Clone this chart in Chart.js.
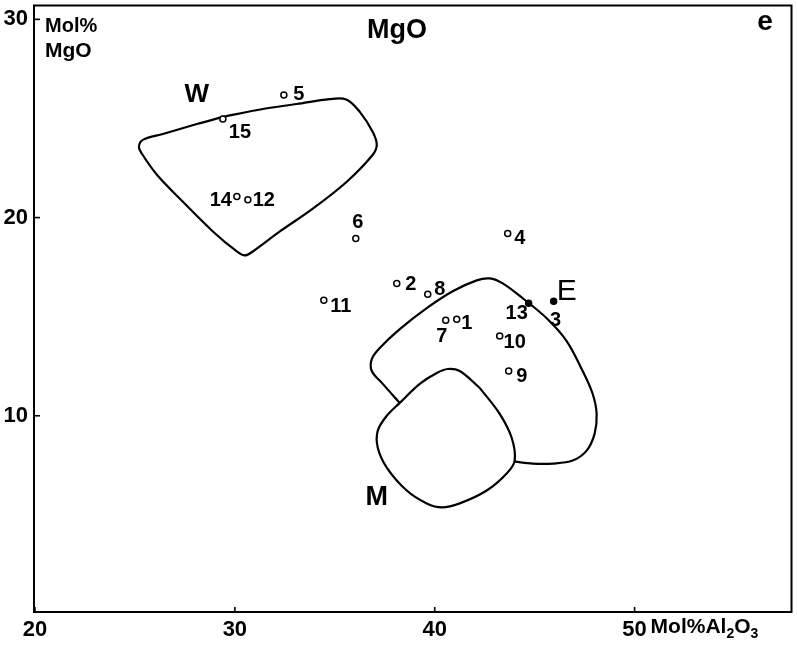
<!DOCTYPE html>
<html>
<head>
<meta charset="utf-8">
<title>MgO - Al2O3</title>
<script src="https://cdn.jsdelivr.net/npm/chart.js@4.4.0/dist/chart.umd.min.js"></script>
<style>
    html, body { margin: 0; padding: 0; background: #fff; }
    #wrap { width: 797px; height: 652px; }
</style>
</head>
<body>
<div id="wrap"><canvas id="mgoChart" width="797" height="652"></canvas></div>
<script>
//--- Data (Mol% Al2O3 / Mol% MgO)
var sampleIds = ['1', '2', '3', '4', '5', '6', '7', '8', '9', '10', '11', '12', '13', '14', '15'];
var sampleAl2O3 = [41.1, 38.1, 45.95, 43.65, 32.45, 36.05, 40.55, 39.65, 43.7, 43.25, 34.45, 30.65, 44.7, 30.1, 29.4];
var sampleMgO = [14.87, 16.68, 15.78, 19.2, 26.18, 18.94, 14.82, 16.13, 12.26, 14.02, 15.83, 20.9, 15.68, 21.06, 24.97];

// field W (closed outline)
var wAl2O3 = [29.4, 31.4, 33.1, 34.75, 35.6, 36.25, 36.9, 37.1, 36.9, 35.6, 33.9, 32.25, 30.9, 30.5, 30.1, 28.9, 27.25, 26.1, 25.35, 25.2, 25.4, 26.4, 28.1, 29.4];
var wMgO = [25.08, 25.48, 25.73, 25.98, 25.95, 25.33, 24.32, 23.67, 23.17, 21.81, 20.45, 19.3, 18.29, 18.09, 18.29, 19.3, 20.95, 22.16, 23.22, 23.57, 23.92, 24.22, 24.72, 25.08];

// field E (open, ends on field M)
var eAl2O3 = [38.25, 37.4, 36.85, 36.85, 37.25, 38.25, 39.6, 40.9, 42.1, 42.75, 43.4, 44.4, 45.6, 46.6, 47.4, 47.9, 48.1, 48.0, 47.6, 46.9, 45.9, 44.9, 44.0];
var eMgO = [10.65, 11.61, 12.26, 12.86, 13.42, 14.37, 15.43, 16.28, 16.83, 16.93, 16.68, 15.93, 14.92, 13.77, 12.26, 11.11, 10.1, 9.1, 8.24, 7.74, 7.59, 7.59, 7.69];

// field M (closed outline)
var mAl2O3 = [42.25, 43.25, 43.85, 44.0, 43.6, 42.6, 41.25, 40.35, 39.6, 38.6, 37.6, 37.15, 37.15, 37.6, 38.25, 39.25, 40.1, 40.65, 41.25, 42.25];
var mMgO = [11.41, 10.1, 8.89, 7.74, 7.09, 6.23, 5.58, 5.38, 5.58, 6.23, 7.39, 8.39, 9.25, 10.0, 10.65, 11.61, 12.16, 12.36, 12.26, 11.41];

var fieldNames = ['W', 'E', 'M'];
var fieldLabelAl2O3 = [28.1, 46.6, 37.1];
var fieldLabelMgO = [26.2, 16.28, 5.88];

var xTicks = [20, 30, 40, 50];
var yTicks = [10, 20, 30];

//--- helpers
var family = "'Liberation Sans', Arial, sans-serif";

function toPoints(xs, ys) {
    return xs.map(function (x, i) { return { x: x, y: ys[i] }; });
}

function outline(name, xs, ys) {
    return {
        label: name,
        data: toPoints(xs, ys),
        showLine: true,
        pointRadius: 0,
        borderColor: '#000',
        borderWidth: 2.2,
        tension: 0.35,
        fill: false
    };
}

// label offsets (px) from each sample point
var labelOffsets = {
    '1': [10, 4], '2': [14, 1], '3': [2, 19], '4': [12, 5], '5': [15, -1],
    '6': [2, -16], '7': [-4, 16], '8': [12, -5], '9': [13, 5], '10': [15, 6],
    '11': [17, 6], '12': [16, 1], '13': [-12, 10], '14': [-16, 4], '15': [17, 13]
};
var filledIds = ['3', '13'];

var decorPlugin = {
    id: 'decor',
    afterDraw: function (chart) {
        var ctx = chart.ctx;
        var area = chart.chartArea;
        var xs = chart.scales.x, ys = chart.scales.y;
        ctx.save();
        ctx.strokeStyle = '#000';
        ctx.fillStyle = '#000';

        // frame
        ctx.lineWidth = 2;
        ctx.strokeRect(area.left, area.top, area.right - area.left, area.bottom - area.top);

        // inward tick marks
        ctx.lineWidth = 1.6;
        xTicks.forEach(function (v) {
            var px = xs.getPixelForValue(v);
            ctx.beginPath();
            ctx.moveTo(px, area.bottom);
            ctx.lineTo(px, area.bottom - 5);
            ctx.stroke();
        });
        yTicks.forEach(function (v) {
            var py = ys.getPixelForValue(v);
            ctx.beginPath();
            ctx.moveTo(area.left, py);
            ctx.lineTo(area.left + 6, py);
            ctx.stroke();
        });

        // sample numbers
        ctx.textAlign = 'center';
        ctx.textBaseline = 'middle';
        ctx.font = 'bold 20px ' + family;
        sampleIds.forEach(function (id, i) {
            var px = xs.getPixelForValue(sampleAl2O3[i]);
            var py = ys.getPixelForValue(sampleMgO[i]);
            var off = labelOffsets[id];
            ctx.fillText(id, px + off[0], py + off[1]);
        });

        // field names
        var fieldFonts = ['bold 26px ' + family, '30px ' + family, 'bold 27px ' + family];
        fieldNames.forEach(function (name, i) {
            ctx.font = fieldFonts[i];
            ctx.fillText(name, xs.getPixelForValue(fieldLabelAl2O3[i]), ys.getPixelForValue(fieldLabelMgO[i]));
        });

        // title and panel letter
        ctx.textBaseline = 'alphabetic';
        ctx.font = 'bold 27px ' + family;
        ctx.fillText('MgO', 397, 38);
        ctx.font = 'bold 28px ' + family;
        ctx.fillText('e', 765, 30);

        // y axis title
        ctx.textAlign = 'left';
        ctx.font = 'bold 20px ' + family;
        ctx.fillText('Mol%', area.left + 11, 32);
        ctx.font = 'bold 21px ' + family;
        ctx.fillText('MgO', area.left + 11, 57);

        // x axis title with subscripts
        var x = xs.getPixelForValue(50) + 16;
        var base = area.bottom + 21;
        var parts = [['Mol%Al', 'bold 21px ', 0], ['2', 'bold 14px ', 5], ['O', 'bold 21px ', 0], ['3', 'bold 14px ', 5]];
        parts.forEach(function (p) {
            ctx.font = p[1] + family;
            ctx.fillText(p[0], x, base + p[2]);
            x += ctx.measureText(p[0]).width;
        });
        ctx.restore();
    }
};

var ctx = document.getElementById('mgoChart');
new Chart(ctx, {
    type: 'scatter',
    data: {
        datasets: [
            {
                label: 'samples',
                data: toPoints(sampleAl2O3, sampleMgO),
                showLine: false,
                pointRadius: 3,
                pointBorderWidth: 1.5,
                pointBorderColor: '#000',
                pointBackgroundColor: sampleIds.map(function (id) {
                    return filledIds.indexOf(id) >= 0 ? '#000' : '#fff';
                })
            },
            outline('W', wAl2O3, wMgO),
            outline('E', eAl2O3, eMgO),
            outline('M', mAl2O3, mMgO)
        ]
    },
    options: {
        responsive: false,
        animation: false,
        devicePixelRatio: 1,
        layout: { padding: { top: 3, right: 5, left: 0, bottom: 0 } },
        plugins: { legend: { display: false }, tooltip: { enabled: false } },
        scales: {
            x: {
                type: 'linear',
                min: 19.95,
                max: 57.85,
                afterFit: function (scale) {
                    scale.height = 40;
                    scale.paddingLeft = 0;
                    scale.paddingRight = 0;
                },
                grid: { display: false, drawTicks: false },
                border: { display: false },
                ticks: {
                    stepSize: 10,
                    includeBounds: false,
                    autoSkip: false,
                    maxRotation: 0,
                    padding: 5,
                    color: '#000',
                    font: { family: family, weight: 'bold', size: 22 },
                    callback: function (v) { return xTicks.indexOf(v) >= 0 ? String(v) : null; }
                }
            },
            y: {
                type: 'linear',
                min: 0.1,
                max: 30.7,
                afterFit: function (scale) {
                    scale.width = 34;
                    scale.paddingTop = 0;
                    scale.paddingBottom = 0;
                },
                grid: { display: false, drawTicks: false },
                border: { display: false },
                ticks: {
                    stepSize: 10,
                    includeBounds: false,
                    autoSkip: false,
                    padding: 6,
                    color: '#000',
                    font: { family: family, weight: 'bold', size: 22 },
                    callback: function (v) { return yTicks.indexOf(v) >= 0 ? String(v) : null; }
                }
            }
        }
    },
    plugins: [decorPlugin]
});
</script>
</body>
</html>
